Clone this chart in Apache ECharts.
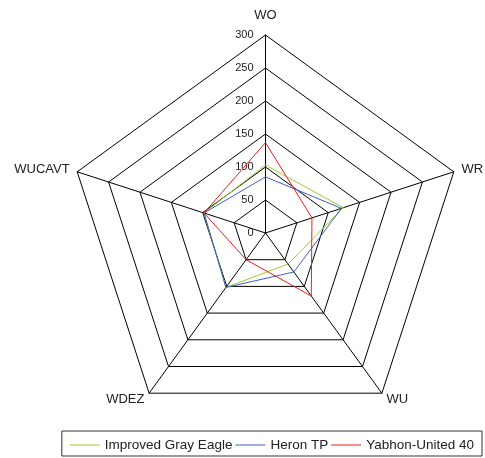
<!DOCTYPE html>
<html>
<head>
<meta charset="utf-8">
<script src="https://cdn.jsdelivr.net/npm/echarts@6/dist/echarts.min.js"></script>
<style>
  html, body { margin: 0; padding: 0; background: #fff; }
  #main { width: 485px; height: 458px; }
</style>
</head>
<body>
<div id="main"></div>
<script>
// indicators, counter-clockwise from the top
var indicatorNames = ['WO', 'WUCAVT', 'WDEZ', 'WU', 'WR'];
var seriesNames = ['Improved Gray Eagle', 'Heron TP', 'Yabhon-United 40'];
var grayEagle = [103, 98, 102, 58, 124];
var heronTP = [85, 98, 102, 73, 121];
var yabhon = [137, 98, 50, 118, 74];
var colors = ['#99cc33', '#3f5fc4', '#ee1c1c'];

var chart = echarts.init(document.getElementById('main'));

var indicators = [];
for (var i = 0; i < indicatorNames.length; i++) {
  var ind = { name: indicatorNames[i], max: 300, min: 0 };
  if (i > 0) ind.axisLabel = { show: false }; // only the top axis has numbers
  indicators.push(ind);
}

var option = {
  animation: false,
  color: colors,
  legend: {
    right: 3,
    top: 431,
    padding: [6, 8, 3, 8],
    itemGap: 3,
    itemWidth: 30,
    itemHeight: 1,
    icon: 'rect',
    borderColor: '#333',
    borderWidth: 1,
    textStyle: { fontFamily: 'Liberation Sans, Arial', fontSize: 13.5, lineHeight: 16, color: '#222' },
    data: seriesNames
  },
  radar: {
    center: [265.5, 233],
    radius: 198,
    startAngle: 90,
    splitNumber: 6,
    shape: 'polygon',
    nameGap: 8,
    axisName: {
      color: '#222',
      fontFamily: 'Liberation Sans, Arial',
      fontSize: 13,
      formatter: function (name) {
        return name == 'WO' ? '{t|WO}' : name;
      },
      rich: { t: { fontSize: 13, color: '#222', fontFamily: 'Liberation Sans, Arial', padding: [0, 0, 5, 0] } }
    },
    axisLine: { lineStyle: { color: '#000', width: 1 } },
    splitLine: { lineStyle: { color: '#000', width: 1 } },
    splitArea: { show: false },
    axisTick: { show: false },
    axisLabel: {
      show: true,
      margin: 12,
      color: '#222',
      fontSize: 11,
      fontFamily: 'Liberation Sans, Arial'
    },
    indicator: indicators
  },
  series: [{
    type: 'radar',
    symbol: 'none',
    lineStyle: { width: 1 },
    data: [
      { name: seriesNames[0], value: grayEagle, lineStyle: { color: colors[0], width: 1 }, itemStyle: { color: colors[0] } },
      { name: seriesNames[1], value: heronTP, lineStyle: { color: colors[1], width: 1 }, itemStyle: { color: colors[1] } },
      { name: seriesNames[2], value: yabhon, lineStyle: { color: colors[2], width: 1 }, itemStyle: { color: colors[2] } }
    ]
  }]
};

chart.setOption(option);
</script>
</body>
</html>
